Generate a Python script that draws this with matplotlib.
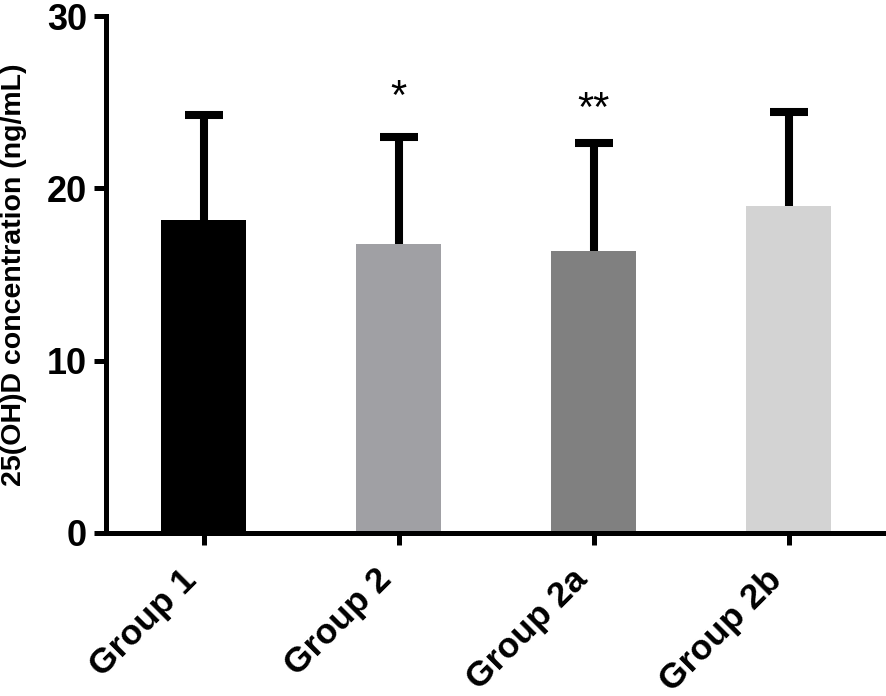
import numpy as np
import matplotlib.pyplot as plt
from matplotlib.transforms import ScaledTranslation

plt.rcParams['font.family'] = ['Liberation Sans', 'DejaVu Sans']

# Mean 25(OH)D and upper SD
groups = ['Group 1', 'Group 2', 'Group 2a', 'Group 2b']
means = [18.17, 16.77, 16.37, 18.98]
sd = [6.09, 6.23, 6.28, 5.45]
colors = ['#000000', '#A0A0A4', '#808080', '#D3D3D3']

# significance marks: (group index, mark, baseline height)
marks = [(1, '*', 24.6), (2, '**', 23.9)]

fig = plt.figure(figsize=(8.86, 6.96), dpi=100)
ax = fig.add_axes([106 / 886, 1 - 533 / 696, 780 / 886, 517 / 696])

x = np.arange(len(groups))
ax.bar(x, means, width=0.44, color=colors, zorder=2)
eb = ax.errorbar(x, means, yerr=[np.zeros(len(sd)), sd], fmt='none', ecolor='black',
                 elinewidth=5.8, capsize=14, capthick=5.8, zorder=3)
# only the upper cap is shown
eb[1][0].set_visible(False)

for i, m, y in marks:
    ax.text(i, y, m, ha='center', va='baseline', fontsize=30)

ax.set_xlim(-0.5, 3.5)
ax.set_ylim(0, 30)
ax.set_yticks([0, 10, 20, 30])
ax.set_xticks(x)
ax.set_xticklabels(groups, rotation=45, ha='right', fontsize=25.5, fontweight='bold')
shift = ScaledTranslation(5 / 100, 0, fig.dpi_scale_trans)
for lab in ax.get_xticklabels():
    lab.set_transform(lab.get_transform() + shift)
for lab in ax.get_yticklabels():
    lab.set_fontsize(26)
    lab.set_fontweight('bold')

ax.set_ylabel('25(OH)D concentration (ng/mL)', fontsize=20.5, fontweight='bold')
ax.yaxis.set_label_coords(-0.101, 0.5)

for s in ['top', 'right']:
    ax.spines[s].set_visible(False)
for s in ['left', 'bottom']:
    ax.spines[s].set_linewidth(3.6)
ax.tick_params(axis='both', direction='out', length=8.6, width=3.6)
ax.tick_params(axis='y', pad=5)
ax.tick_params(axis='x', pad=13)

fig.savefig('out.png', dpi=100)
